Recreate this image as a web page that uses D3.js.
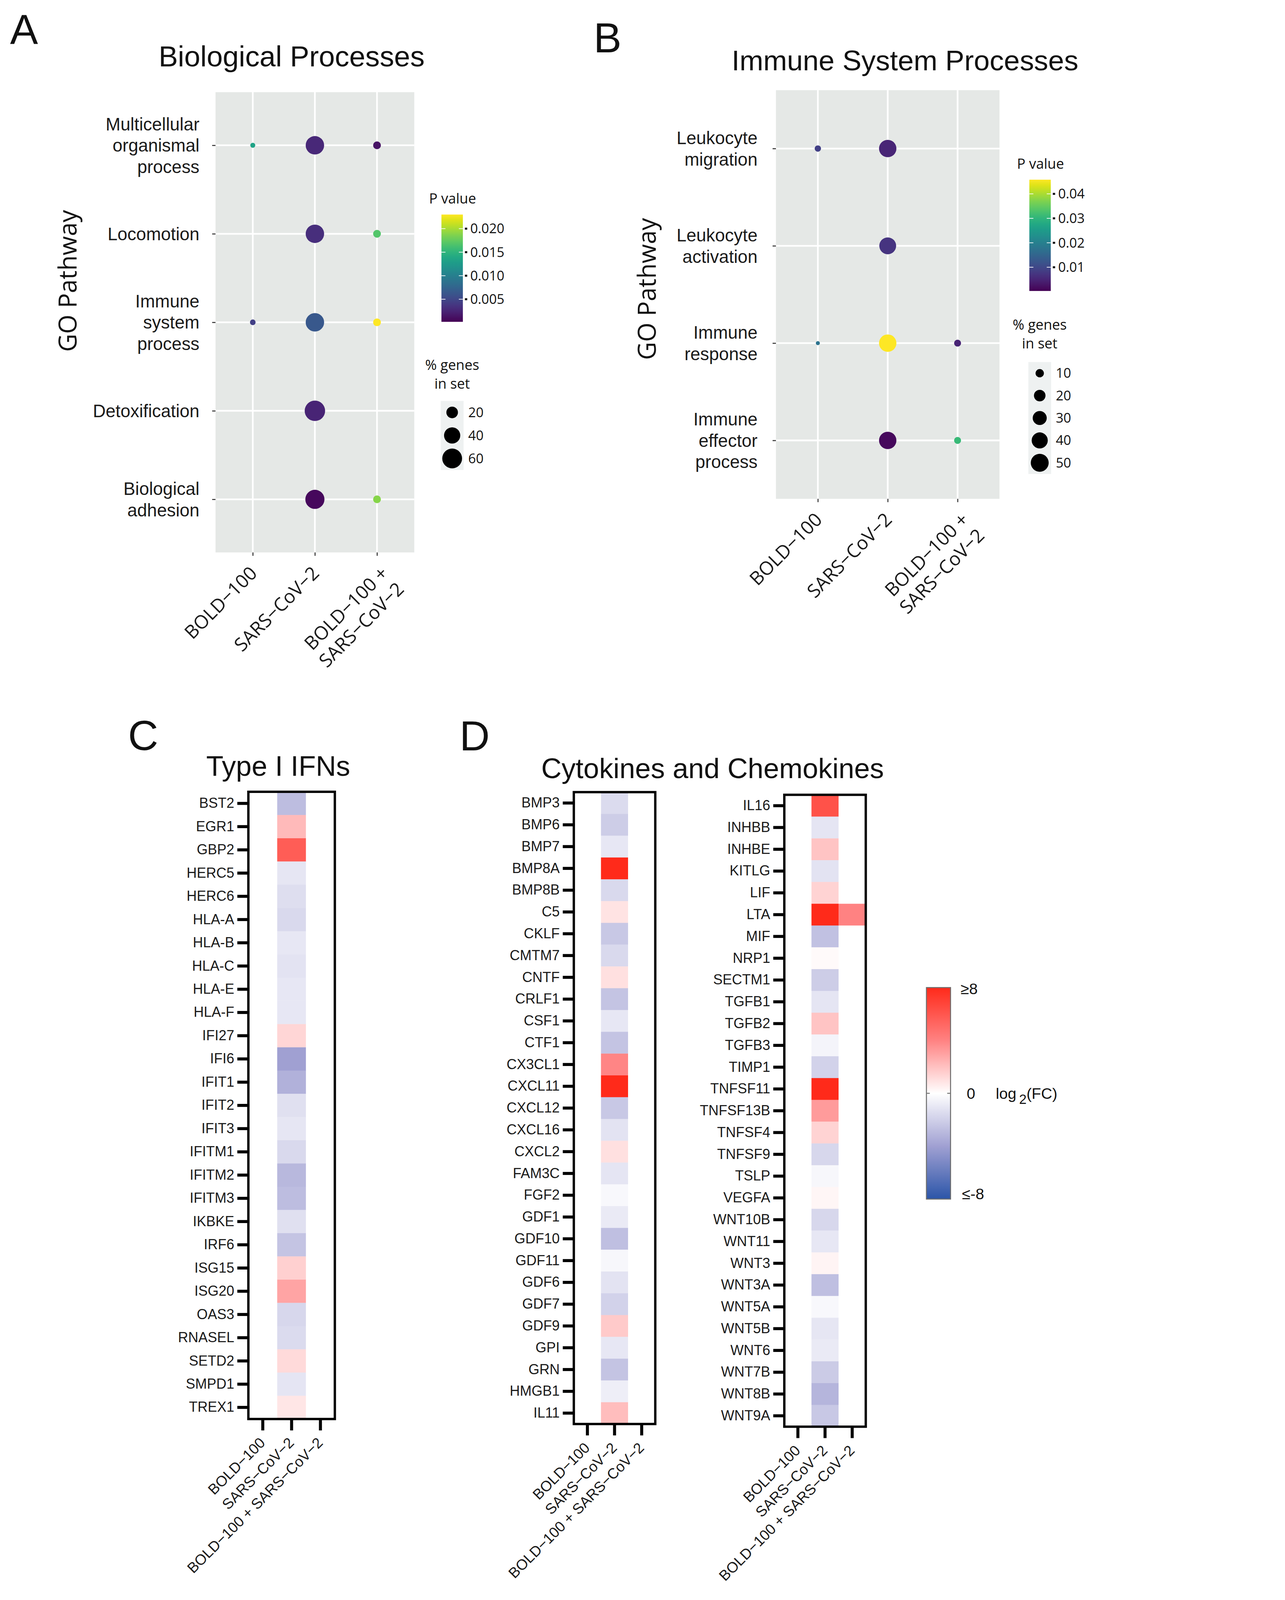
<!DOCTYPE html>
<html>
<head>
<meta charset="utf-8">
<script src="https://cdn.jsdelivr.net/npm/d3@7"></script>
<style>
  html, body { margin: 0; padding: 0; background: #ffffff; overflow: hidden; }
  svg { display: block; width: 100vw; height: 100vh; }
</style>
</head>
<body>
<div class="svg-container"></div>
<script>
/*** Data ***/

const groups = ["BOLD−100", "SARS−CoV−2", "BOLD−100 + SARS−CoV−2"]
const groupLinesGO = [["BOLD−100"], ["SARS−CoV−2"], ["BOLD−100 +", "SARS−CoV−2"]]

// A - Biological Processes (rows x groups, null = no dot)
const bpPathways = ["Multicellular organismal process", "Locomotion", "Immune system process", "Detoxification", "Biological adhesion"]
const bpLines = [["Multicellular", "organismal", "process"], ["Locomotion"], ["Immune", "system", "process"], ["Detoxification"], ["Biological", "adhesion"]]
const bpPct = [
    [3.4, 52, 8.8],
    [null, 52, 8.8],
    [4.5, 52, 8.8],
    [null, 64, null],
    [null, 56, 8.8]
]
const bpPval = [
    [0.0134, 0.0027, 0.0013],
    [null, 0.0032, 0.0168],
    [0.0045, 0.0064, 0.0230],
    [null, 0.0025, null],
    [null, 0.0007, 0.0189]
]
const bpPTicks = [0.005, 0.010, 0.015, 0.020]
const bpSizeKeys = [20, 40, 60]

// B - Immune System Processes
const isPathways = ["Leukocyte migration", "Leukocyte activation", "Immune response", "Immune effector process"]
const isLines = [["Leukocyte", "migration"], ["Leukocyte", "activation"], ["Immune", "response"], ["Immune", "effector", "process"]]
const isPct = [
    [5.6, 47, null],
    [null, 44, null],
    [2, 47, 6.8],
    [null, 47, 6.8]
]
const isPval = [
    [0.0089, 0.0050, null],
    [null, 0.0071, null],
    [0.0176, 0.0458, 0.0049],
    [null, 0.0012, 0.0310]
]
const isPTicks = [0.01, 0.02, 0.03, 0.04]
const isSizeKeys = [10, 20, 30, 40, 50]

// C - Type I IFNs, log2(FC)
const ifnGenes = ["BST2", "EGR1", "GBP2", "HERC5", "HERC6", "HLA-A", "HLA-B", "HLA-C", "HLA-E", "HLA-F", "IFI27", "IFI6", "IFIT1", "IFIT2", "IFIT3", "IFITM1", "IFITM2", "IFITM3", "IKBKE", "IRF6", "ISG15", "ISG20", "OAS3", "RNASEL", "SETD2", "SMPD1", "TREX1"]
const ifnBold = [0, 0, 0, 0, 0, 0, 0, 0, 0, 0, 0, 0, 0, 0, 0, 0, 0, 0, 0, 0, 0, 0, 0, 0, 0, 0, 0]
const ifnSars = [-2.8, 2.2, 5.7, -1.05, -1.4, -1.6, -1.0, -1.2, -1.0, -1.0, 1.3, -4.0, -3.3, -1.3, -1.05, -1.6, -3.0, -2.8, -1.3, -2.5, 1.5, 2.9, -1.7, -1.5, 1.2, -1.1, 0.8]
const ifnCombo = [0, 0, 0, 0, 0, 0, 0, 0, 0, 0, 0, 0, 0, 0, 0, 0, 0, 0, 0, 0, 0, 0, 0, 0, 0, 0, 0]

// D - Cytokines and Chemokines, log2(FC)
const ckLeftGenes = ["BMP3", "BMP6", "BMP7", "BMP8A", "BMP8B", "C5", "CKLF", "CMTM7", "CNTF", "CRLF1", "CSF1", "CTF1", "CX3CL1", "CXCL11", "CXCL12", "CXCL16", "CXCL2", "FAM3C", "FGF2", "GDF1", "GDF10", "GDF11", "GDF6", "GDF7", "GDF9", "GPI", "GRN", "HMGB1", "IL11"]
const ckLeftBold = [0, 0, 0, 0, 0, 0, 0, 0, 0, 0, 0, 0, 0, 0, 0, 0, 0, 0, 0, 0, 0, 0, 0, 0, 0, 0, 0, 0, 0]
const ckLeftSars = [-1.5, -2.1, -1.0, 8, -1.6, 0.9, -2.3, -1.6, 1.0, -2.5, -1.0, -2.5, 3.9, 8, -2.3, -1.2, 1.0, -1.1, -0.3, -0.9, -2.7, -0.35, -1.2, -1.9, 1.7, -1.0, -2.5, -0.7, 2.1]
const ckLeftCombo = [0, 0, 0, 0, 0, 0, 0, 0, 0, 0, 0, 0, 0, 0, 0, 0, 0, 0, 0, 0, 0, 0, 0, 0, 0, 0, 0, 0, 0]

const ckRightGenes = ["IL16", "INHBB", "INHBE", "KITLG", "LIF", "LTA", "MIF", "NRP1", "SECTM1", "TGFB1", "TGFB2", "TGFB3", "TIMP1", "TNFSF11", "TNFSF13B", "TNFSF4", "TNFSF9", "TSLP", "VEGFA", "WNT10B", "WNT11", "WNT3", "WNT3A", "WNT5A", "WNT5B", "WNT6", "WNT7B", "WNT8B", "WNT9A"]
const ckRightBold = [0, 0, 0, 0, 0, 0, 0, 0, 0, 0, 0, 0, 0, 0, 0, 0, 0, 0, 0, 0, 0, 0, 0, 0, 0, 0, 0, 0, 0]
const ckRightSars = [6.2, -1.1, 1.9, -1.2, 1.4, 8, -2.6, 0.15, -2.1, -1.1, 1.9, -0.45, -1.9, 8, 3.2, 1.4, -1.7, -0.35, 0.3, -1.7, -1.0, 0.35, -2.7, -0.3, -1.05, -0.9, -2.2, -3.1, -2.3]
const ckRightCombo = [0, 0, 0, 0, 0, 4.0, 0, 0, 0, 0, 0, 0, 0, 0, 0, 0, 0, 0, 0, 0, 0, 0, 0, 0, 0, 0, 0, 0, 0]

const fcStops = [-8, -4, 0, 4, 8]
const fcColors = ["#2b55a8", "#a0a0d2", "#ffffff", "#ff8282", "#ff2a1a"]

/*** Setup ***/

const svgWidth = 3290
const svgHeight = 4773
const sans = "'Liberation Sans', Arial, Helvetica, sans-serif"
const myriad = "'Open Sans', 'Liberation Sans', sans-serif"

// viewBox so the drawing fills the window whatever its CSS size
let svg = d3.select(".svg-container")
    .append("svg")
    .attr("viewBox", `0 0 ${svgWidth} ${svgHeight}`)
    .attr("preserveAspectRatio", "xMinYMin meet")
    .style("background-color", "white")

let defs = svg.append("defs")

function addText(x, y, str, size, opts = {}) {
    return svg.append("text")
        .attr("x", x)
        .attr("y", y)
        .attr("font-size", size)
        .attr("font-family", opts.family || sans)
        .attr("text-anchor", opts.anchor || "start")
        .attr("fill", opts.fill || "#111")
        .text(str)
}

/*** A & B: bubble plots ***/

function bubblePanel(cfg) {
    let g = svg.append("g")

    let xScale = d3.scalePoint().domain(groups).range([cfg.x0, cfg.x1]).padding(0.6)
    let yScale = d3.scalePoint().domain(cfg.pathways).range([cfg.y0, cfg.y1]).padding(0.6)
    let rScale = d3.scaleSqrt().domain(cfg.sizeDomain).range(cfg.sizeRange)
    let cScale = d3.scaleSequential(d3.interpolateViridis).domain(cfg.pDomain)

    g.append("rect")
        .attr("x", cfg.x0).attr("y", cfg.y0)
        .attr("width", cfg.x1 - cfg.x0).attr("height", cfg.y1 - cfg.y0)
        .attr("fill", "#e5e8e6")

    g.selectAll(".vgrid").data(groups).enter().append("line")
        .attr("x1", d => xScale(d)).attr("x2", d => xScale(d))
        .attr("y1", cfg.y0).attr("y2", cfg.y1)
        .attr("stroke", "white").attr("stroke-width", 5)

    g.selectAll(".hgrid").data(cfg.pathways).enter().append("line")
        .attr("y1", d => yScale(d)).attr("y2", d => yScale(d))
        .attr("x1", cfg.x0).attr("x2", cfg.x1)
        .attr("stroke", "white").attr("stroke-width", 5)

    let points = []
    cfg.pathways.forEach((p, i) => {
        groups.forEach((gr, j) => {
            if (cfg.pct[i][j] != null) points.push({ path: p, group: gr, pct: cfg.pct[i][j], p: cfg.pval[i][j] })
        })
    })

    g.selectAll("circle").data(points).enter().append("circle")
        .attr("cx", d => xScale(d.group))
        .attr("cy", d => yScale(d.path))
        .attr("r", d => rScale(d.pct))
        .attr("fill", d => cScale(d.p))

    // y axis with multi-line labels
    let yAxis = g.append("g")
        .attr("transform", `translate(${cfg.x0}, 0)`)
        .call(d3.axisLeft(yScale).tickSize(10).tickPadding(cfg.yPad))
    yAxis.attr("font-size", 53).attr("font-family", sans)
    yAxis.select(".domain").remove()
    yAxis.selectAll("line").attr("stroke", "#333").attr("stroke-width", 3)
    yAxis.selectAll("text")
        .attr("fill", "#1a1a1a")
        .attr("dy", null)
        .text(null)
        .each(function (d, i) {
            let lines = cfg.lines[i]
            let t = d3.select(this)
            let x = t.attr("x")
            lines.forEach((ln, k) => {
                t.append("tspan")
                    .attr("x", x)
                    .attr("dy", (k === 0 ? 0.35 - (lines.length - 1) * 0.6 : 1.2) + "em")
                    .text(ln)
            })
        })

    // x axis rotated labels
    let xAxis = g.append("g")
        .attr("transform", `translate(0, ${cfg.y1})`)
        .call(d3.axisBottom(xScale).tickSize(10))
    xAxis.attr("font-size", 56).attr("font-family", myriad)
    xAxis.select(".domain").remove()
    xAxis.selectAll("line").attr("stroke", "#333").attr("stroke-width", 3)
    xAxis.selectAll("text")
        .attr("fill", "#1a1a1a")
        .attr("x", 0).attr("y", 0).attr("dy", null)
        .attr("text-anchor", "end")
        .attr("transform", (d, i) => groupLinesGO[i].length > 1 ? "translate(6, 36) rotate(-45)" : "translate(-14, 36) rotate(-45)")
        .text(null)
        .each(function (d, i) {
            let t = d3.select(this)
            groupLinesGO[i].forEach((ln, k) => {
                t.append("tspan")
                    .attr("x", 0)
                    .attr("dy", (k === 0 ? 0.75 : 1.2) + "em")
                    .text(ln)
            })
        })

    // y title
    svg.append("text")
        .attr("transform", `translate(${cfg.titleYx}, ${cfg.titleYy}) rotate(-90)`)
        .attr("text-anchor", "middle")
        .attr("font-size", 74)
        .attr("font-family", myriad)
        .attr("fill", "#111")
        .text("GO Pathway")

    // colour bar legend
    let gradId = "vir" + cfg.id
    let grad = defs.append("linearGradient").attr("id", gradId)
        .attr("x1", 0).attr("y1", 1).attr("x2", 0).attr("y2", 0)
    d3.range(0, 1.0001, 0.05).forEach(t => {
        grad.append("stop").attr("offset", t).attr("stop-color", d3.interpolateViridis(t))
    })
    let lb = cfg.bar
    addText(lb.x - 37, lb.y0 - 33, "P value", 42, { family: myriad })
    g.append("rect")
        .attr("x", lb.x).attr("y", lb.y0)
        .attr("width", lb.w).attr("height", lb.y1 - lb.y0)
        .attr("fill", `url(#${gradId})`)
    let pBar = d3.scaleLinear().domain(cfg.pDomain).range([lb.y1, lb.y0])
    cfg.pTicks.forEach(v => {
        let y = pBar(v)
        g.append("line").attr("x1", lb.x).attr("x2", lb.x + 12).attr("y1", y).attr("y2", y)
            .attr("stroke", "white").attr("stroke-width", 2)
        g.append("line").attr("x1", lb.x + lb.w - 12).attr("x2", lb.x + lb.w).attr("y1", y).attr("y2", y)
            .attr("stroke", "white").attr("stroke-width", 2)
        g.append("line").attr("x1", lb.x + lb.w + 6).attr("x2", lb.x + lb.w + 13).attr("y1", y).attr("y2", y)
            .attr("stroke", "#111").attr("stroke-width", 6)
        addText(lb.x + lb.w + 22, y + 14, cfg.tickFmt(v), 40, { family: myriad })
    })

    // size legend
    let sk = cfg.sizeKey
    addText(sk.cx, sk.titleY, "% genes", 42, { family: myriad, anchor: "middle" })
    addText(sk.cx, sk.titleY + 56, "in set", 42, { family: myriad, anchor: "middle" })
    g.append("rect")
        .attr("x", sk.cx - 34).attr("y", sk.y0)
        .attr("width", 68).attr("height", sk.y1 - sk.y0)
        .attr("fill", "#eef1f1")
    let kScale = d3.scalePoint().domain(cfg.sizeKeys).range([sk.y0, sk.y1]).padding(0.5)
    cfg.sizeKeys.forEach(v => {
        g.append("circle").attr("cx", sk.cx).attr("cy", kScale(v)).attr("r", rScale(v)).attr("fill", "black")
        addText(sk.cx + 48, kScale(v) + 14, v, 40, { family: myriad })
    })
}

bubblePanel({
    id: "A", pathways: bpPathways, lines: bpLines, pct: bpPct, pval: bpPval,
    x0: 643, x1: 1236, y0: 275, y1: 1648, yPad: 38, titleYx: 228, titleYy: 838,
    sizeDomain: [3, 62], sizeRange: [7, 30], pDomain: [0.0002, 0.023],
    pTicks: bpPTicks, tickFmt: d3.format(".3f"), sizeKeys: bpSizeKeys,
    bar: { x: 1317, w: 64, y0: 640, y1: 960 },
    sizeKey: { cx: 1349, titleY: 1103, y0: 1196, y1: 1402 }
})

bubblePanel({
    id: "B", pathways: isPathways, lines: isLines, pct: isPct, pval: isPval,
    x0: 2315, x1: 2982, y0: 269, y1: 1488, yPad: 45, titleYx: 1956, titleYy: 862,
    sizeDomain: [2, 55], sizeRange: [6, 28], pDomain: [0.0003, 0.0458],
    pTicks: isPTicks, tickFmt: d3.format(".2f"), sizeKeys: isSizeKeys,
    bar: { x: 3071, w: 64, y0: 536, y1: 868 },
    sizeKey: { cx: 3102, titleY: 983, y0: 1080, y1: 1414 }
})

addText(30, 132, "A", 125)
addText(870, 198, "Biological Processes", 86, { anchor: "middle" })
addText(1771, 156, "B", 125)
addText(2700, 210, "Immune System Processes", 85, { anchor: "middle" })

/*** C & D: heatmaps ***/

let fcScale = d3.scaleLinear().domain(fcStops).range(fcColors).clamp(true)

function heatmap(cfg) {
    let g = svg.append("g")
    let bottom = cfg.top + cfg.genes.length * cfg.rowH
    let yScale = d3.scaleBand().domain(cfg.genes).range([cfg.top, bottom])
    let xScale = d3.scaleBand().domain(groups).range([cfg.x0, cfg.x0 + 3 * cfg.colW])

    let cells = []
    cfg.genes.forEach((gene, i) => {
        groups.forEach((gr, j) => cells.push({ gene: gene, group: gr, v: cfg.values[j][i] }))
    })

    g.selectAll("rect.cell").data(cells).enter().append("rect")
        .attr("x", d => xScale(d.group))
        .attr("y", d => yScale(d.gene))
        .attr("width", xScale.bandwidth())
        .attr("height", yScale.bandwidth() + 0.5)
        .attr("fill", d => fcScale(d.v))

    g.append("rect")
        .attr("x", cfg.x0).attr("y", cfg.top)
        .attr("width", 3 * cfg.colW).attr("height", bottom - cfg.top)
        .attr("fill", "none").attr("stroke", "black").attr("stroke-width", 7)

    let yAxis = g.append("g")
        .attr("transform", `translate(${cfg.x0 + 3}, 0)`)
        .call(d3.axisLeft(yScale).tickSize(36).tickPadding(9))
    yAxis.attr("font-size", 42).attr("font-family", sans)
    yAxis.select(".domain").remove()
    yAxis.selectAll("line").attr("stroke", "black").attr("stroke-width", 9)
    yAxis.selectAll("text").attr("fill", "#1a1a1a")

    let xAxis = g.append("g")
        .attr("transform", `translate(0, ${bottom})`)
        .call(d3.axisBottom(xScale).tickSize(34))
    xAxis.attr("font-size", 44).attr("font-family", sans)
    xAxis.select(".domain").remove()
    xAxis.selectAll("line").attr("stroke", "black").attr("stroke-width", 9)
    xAxis.selectAll("text")
        .attr("fill", "#1a1a1a")
        .attr("x", 0).attr("y", 0).attr("dy", "0.7em")
        .attr("text-anchor", "end")
        .attr("transform", "translate(-12, 52) rotate(-45)")
}

heatmap({ genes: ifnGenes, values: [ifnBold, ifnSars, ifnCombo], x0: 741, colW: 86, top: 2362, rowH: 69.3 })
heatmap({ genes: ckLeftGenes, values: [ckLeftBold, ckLeftSars, ckLeftCombo], x0: 1712, colW: 81, top: 2363, rowH: 65 })
heatmap({ genes: ckRightGenes, values: [ckRightBold, ckRightSars, ckRightCombo], x0: 2340, colW: 81, top: 2371, rowH: 65 })

addText(382, 2237, "C", 125)
addText(830, 2314, "Type I IFNs", 84, { anchor: "middle" })
addText(1371, 2239, "D", 125)
addText(2126, 2321, "Cytokines and Chemokines", 84, { anchor: "middle" })

/* log2(FC) legend */

let fcGrad = defs.append("linearGradient").attr("id", "fcGrad")
    .attr("x1", 0).attr("y1", 1).attr("x2", 0).attr("y2", 0)
let fcLegend = d3.scaleLinear().domain([-8, 8]).range([0, 1])
d3.range(-8, 8.001, 0.5).forEach(v => {
    fcGrad.append("stop").attr("offset", fcLegend(v)).attr("stop-color", fcScale(v))
})

let barTop = 2946, barBottom = 3577, barX = 2764, barW = 72
svg.append("rect")
    .attr("x", barX).attr("y", barTop)
    .attr("width", barW).attr("height", barBottom - barTop)
    .attr("fill", "url(#fcGrad)")
    .attr("stroke", "#6e6e6e").attr("stroke-width", 3)
let barScale = d3.scaleLinear().domain([-8, 8]).range([barBottom, barTop])
svg.append("line").attr("x1", barX).attr("x2", barX + 10).attr("y1", barScale(0)).attr("y2", barScale(0))
    .attr("stroke", "#777").attr("stroke-width", 3)
svg.append("line").attr("x1", barX + barW - 10).attr("x2", barX + barW).attr("y1", barScale(0)).attr("y2", barScale(0))
    .attr("stroke", "#777").attr("stroke-width", 3)

addText(2866, barScale(8) + 20, "≥8", 46)
addText(2884, barScale(0) + 16, "0", 46)
addText(2870, barScale(-8) + 0, "≤-8", 46)

let logLabel = addText(2971, barScale(0) + 16, "", 46)
logLabel.append("tspan").text("log")
logLabel.append("tspan").attr("dx", 8).attr("dy", 16).attr("font-size", 40).text("2")
logLabel.append("tspan").attr("dy", -16).text("(FC)")
</script>
</body>
</html>
